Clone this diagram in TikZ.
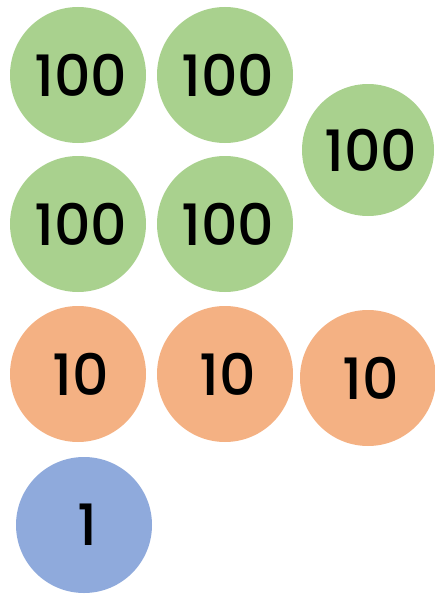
\documentclass[tikz,border=0pt]{standalone}
\usepackage{fontspec}
\setmainfont{Poppins}[BoldFont=* Medium]
\definecolor{cgreen}{HTML}{A9D18E}
\definecolor{corange}{HTML}{F4B183}
\definecolor{cblue}{HTML}{8FAADC}
\newcommand{\cointext}[1]{\hspace*{6pt}\raisebox{-4pt}{#1}}
\begin{document}
\begin{tikzpicture}[x=1pt,y=-1pt,
  coin/.style={circle, minimum size=136pt, inner sep=0pt, font=\fontsize{57}{57}\selectfont\bfseries, text=black}]
\useasboundingbox (0,0) rectangle (434,594);
\node[coin, fill=cgreen] (a) at (78,75) {\cointext{100}};
\node[coin, fill=cgreen] (b) at (225,75) {\cointext{100}};
\node[coin, fill=cgreen, minimum size=132pt] (c) at (368,150) {\cointext{100}};
\node[coin, fill=cgreen] (d) at (78,224) {\cointext{100}};
\node[coin, fill=cgreen] (e) at (225,224) {\cointext{100}};
\node[coin, fill=corange] (f) at (78,374) {\cointext{10}};
\node[coin, fill=corange] (g) at (225,374) {\cointext{10}};
\node[coin, fill=corange] (h) at (368,378) {\cointext{10}};
\node[coin, fill=cblue] (i) at (84,525) {\cointext{1}};
\end{tikzpicture}
\end{document}
